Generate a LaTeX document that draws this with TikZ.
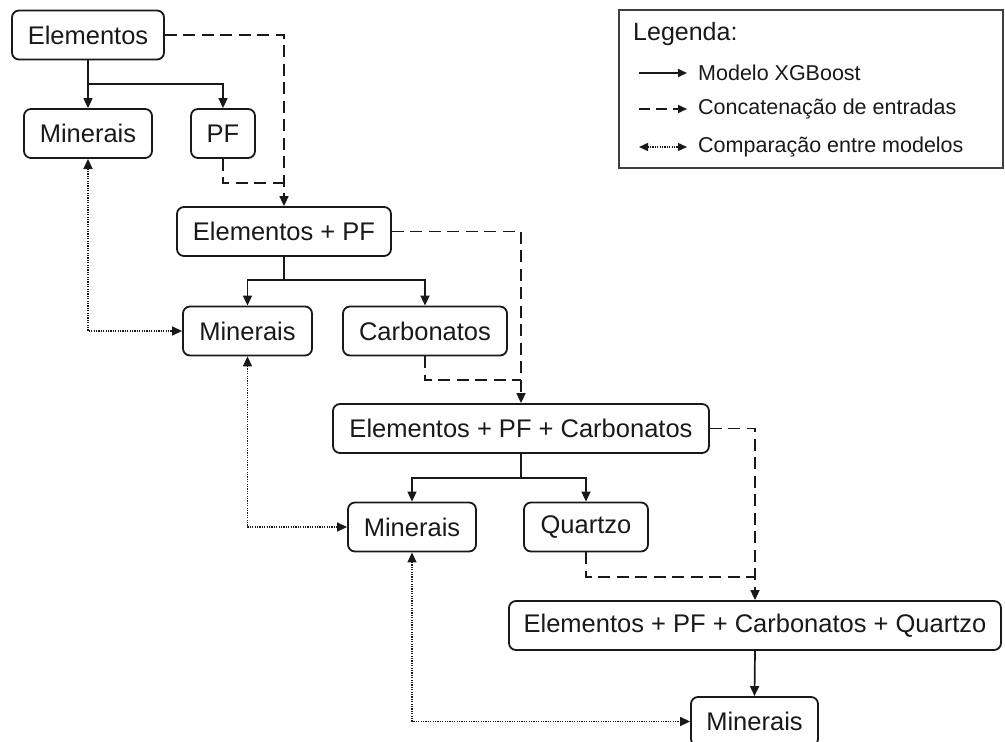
\documentclass[tikz,border=0pt]{standalone}
\usepackage{fontspec}
\setmainfont{Liberation Sans}
\usetikzlibrary{arrows.meta,calc}
\begin{document}
\begin{tikzpicture}[x=1pt,y=-1pt,
  box/.style={draw=black!90, line width=1.8pt, rounded corners=7pt, minimum height=49pt,
    inner sep=0pt, font=\fontsize{25.5}{30}\selectfont, text=black!90},
  solidarr/.style={draw=black!90, line width=1.7pt, -{Triangle[length=10pt,width=9pt]}},
  dashline/.style={draw=black!90, line width=1.7pt, dash pattern=on 12pt off 6.5pt},
  dasharr/.style={dashline, -{Triangle[length=10pt,width=9pt]}},
  dotarr/.style={draw=black!90, line width=1.5pt, dash pattern=on 1.2pt off 1.2pt,
    {Triangle[length=10pt,width=9pt]}-{Triangle[length=10pt,width=9pt]}},
  legtext/.style={anchor=west, font=\fontsize{21.5}{26}\selectfont, text=black!90, inner sep=0pt}
]
\useasboundingbox (0,0) rectangle (1005,742);

% boxes
\node[box, minimum width=152pt] (e) at (88,35) {Elementos};
\node[box, minimum width=128pt] (m1) at (88,133.5) {Minerais};
\node[box, minimum width=64pt] (pf) at (223,133.5) {PF};
\node[box, minimum width=214pt] (epf) at (284,231.5) {Elementos + PF};
\node[box, minimum width=129pt] (m2) at (247.5,331) {Minerais};
\node[box, minimum width=164pt] (c) at (425,331) {Carbonatos};
\node[box, minimum width=376pt] (epfc) at (521,428.5) {Elementos + PF + Carbonatos};
\node[box, minimum width=128pt] (m3) at (412,527) {Minerais};
\node[box, minimum width=124pt] (q) at (586,527) {Quartzo};
\node[box, minimum width=492pt] (epfcq) at (755,625.5) {Elementos + PF + Carbonatos + Quartzo};
\node[box, minimum width=127pt] (m4) at (754.5,721.5) {Minerais};

% XGBoost model arrows
\coordinate (b1) at (88,84);
\coordinate (b2) at (284,280);
\coordinate (b3) at (521,478);
\draw[solidarr] (e.south) -- (m1.north);
\draw[solidarr] (b1) -| (pf.north);
\draw[draw=black!90, line width=1.7pt] (epf.south) -- (b2);
\draw[solidarr] (b2) -| (m2.north);
\draw[solidarr] (b2) -| (c.north);
\draw[draw=black!90, line width=1.7pt] (epfc.south) -- (b3);
\draw[solidarr] (b3) -| (m3.north);
\draw[solidarr] (b3) -| (q.north);
\draw[solidarr] (epfcq.south) -- (m4.north);

% concatenation
\coordinate (j1) at (284,183);
\coordinate (j2) at (521,380);
\coordinate (j3) at (755,577);
\draw[dasharr] (e.east) -| (epf.north);
\draw[dashline] (pf.south) |- (j1);
\draw[dasharr] (epf.east) -| (epfc.north);
\draw[dashline] (c.south) |- (j2);
\draw[dasharr] (epfc.east) -| (epfcq.north);
\draw[dashline] (q.south) |- (j3);

% comparisons
\draw[dotarr] (m1.south) |- (m2.west);
\draw[dotarr] (m2.south) |- (m3.west);
\draw[dotarr] (m3.south) |- (m4.west);

% legend
\node[draw=black!75, line width=1.6pt, minimum width=384pt, minimum height=158pt, inner sep=0pt] (leg) at (811,89) {};
\node[anchor=west, font=\fontsize{25}{30}\selectfont, text=black!90, inner sep=0pt] (legt) at (633,34) {Legenda:};
\coordinate (l1a) at (639,73); \coordinate (l1b) at (687,73);
\coordinate (l2a) at (639,109); \coordinate (l2b) at (687,109);
\coordinate (l3a) at (639,147); \coordinate (l3b) at (687,147);
\draw[draw=black!90, line width=1.7pt, -{Triangle[length=9pt,width=8pt]}] (l1a) -- (l1b);
\draw[draw=black!90, line width=1.7pt, dash pattern=on 11pt off 6pt, -{Triangle[length=9pt,width=8pt]}] (l2a) -- (l2b);
\draw[draw=black!90, line width=1.4pt, dash pattern=on 1.2pt off 1.2pt, {Triangle[length=9pt,width=8pt]}-{Triangle[length=9pt,width=8pt]}] (l3a) -- (l3b);
\node[legtext] (lt1) at (698,73) {Modelo XGBoost};
\node[legtext] (lt2) at (698,109) {Concatenação de entradas};
\node[legtext] (lt3) at (698,147) {Comparação entre modelos};
\end{tikzpicture}
\end{document}
